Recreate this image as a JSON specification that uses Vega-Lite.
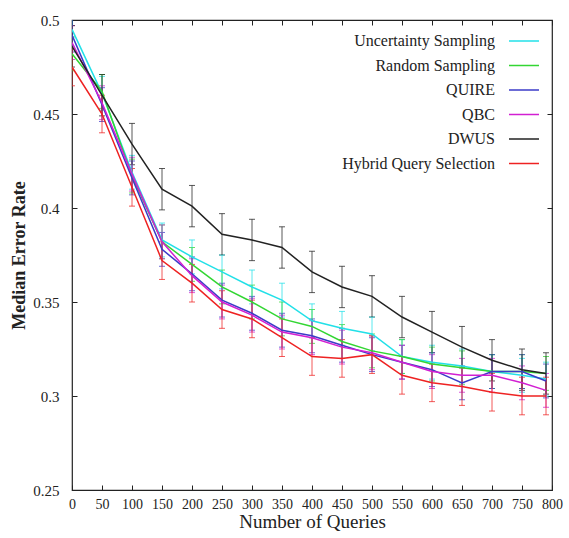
{
  "$schema": "https://vega.github.io/schema/vega-lite/v6.json",
  "width": 480,
  "height": 470,
  "autosize": {"type": "none"},
  "padding": {"left": 72, "top": 20, "right": 17, "bottom": 48},
  "background": "white",
  "config": {
    "font": "Liberation Serif",
    "view": {"stroke": "#222", "strokeWidth": 1.2},
    "axis": {"grid": false, "domain": false, "tickColor": "#222", "labelColor": "#222", "titleColor": "#222", "labelFont": "Liberation Serif", "titleFont": "Liberation Serif", "labelFontSize": 15, "titleFontSize": 19, "titleFontWeight": "normal"},
    "legend": {"labelFont": "Liberation Serif", "labelFontSize": 16, "labelColor": "#222"}
  },
  "data": {"values": [
    {"method":"Uncertainty Sampling","queries":0,"rate":0.495,"lo":0.486,"hi":0.504},
    {"method":"Uncertainty Sampling","queries":50,"rate":0.461,"lo":0.452,"hi":0.470},
    {"method":"Uncertainty Sampling","queries":100,"rate":0.419,"lo":0.410,"hi":0.428},
    {"method":"Uncertainty Sampling","queries":150,"rate":0.383,"lo":0.374,"hi":0.392},
    {"method":"Uncertainty Sampling","queries":200,"rate":0.374,"lo":0.365,"hi":0.383},
    {"method":"Uncertainty Sampling","queries":250,"rate":0.366,"lo":0.357,"hi":0.375},
    {"method":"Uncertainty Sampling","queries":300,"rate":0.358,"lo":0.349,"hi":0.367},
    {"method":"Uncertainty Sampling","queries":350,"rate":0.351,"lo":0.342,"hi":0.360},
    {"method":"Uncertainty Sampling","queries":400,"rate":0.340,"lo":0.331,"hi":0.349},
    {"method":"Uncertainty Sampling","queries":450,"rate":0.336,"lo":0.327,"hi":0.345},
    {"method":"Uncertainty Sampling","queries":500,"rate":0.333,"lo":0.324,"hi":0.342},
    {"method":"Uncertainty Sampling","queries":550,"rate":0.321,"lo":0.312,"hi":0.330},
    {"method":"Uncertainty Sampling","queries":600,"rate":0.318,"lo":0.309,"hi":0.327},
    {"method":"Uncertainty Sampling","queries":650,"rate":0.316,"lo":0.307,"hi":0.325},
    {"method":"Uncertainty Sampling","queries":700,"rate":0.313,"lo":0.304,"hi":0.322},
    {"method":"Uncertainty Sampling","queries":750,"rate":0.311,"lo":0.302,"hi":0.320},
    {"method":"Uncertainty Sampling","queries":790,"rate":0.309,"lo":0.300,"hi":0.318},
    {"method":"Random Sampling","queries":0,"rate":0.482,"lo":0.473,"hi":0.491},
    {"method":"Random Sampling","queries":50,"rate":0.462,"lo":0.453,"hi":0.471},
    {"method":"Random Sampling","queries":100,"rate":0.417,"lo":0.408,"hi":0.426},
    {"method":"Random Sampling","queries":150,"rate":0.382,"lo":0.373,"hi":0.391},
    {"method":"Random Sampling","queries":200,"rate":0.370,"lo":0.361,"hi":0.379},
    {"method":"Random Sampling","queries":250,"rate":0.358,"lo":0.349,"hi":0.367},
    {"method":"Random Sampling","queries":300,"rate":0.350,"lo":0.341,"hi":0.359},
    {"method":"Random Sampling","queries":350,"rate":0.341,"lo":0.332,"hi":0.350},
    {"method":"Random Sampling","queries":400,"rate":0.337,"lo":0.328,"hi":0.346},
    {"method":"Random Sampling","queries":450,"rate":0.329,"lo":0.320,"hi":0.338},
    {"method":"Random Sampling","queries":500,"rate":0.324,"lo":0.315,"hi":0.333},
    {"method":"Random Sampling","queries":550,"rate":0.321,"lo":0.312,"hi":0.330},
    {"method":"Random Sampling","queries":600,"rate":0.317,"lo":0.308,"hi":0.326},
    {"method":"Random Sampling","queries":650,"rate":0.315,"lo":0.306,"hi":0.324},
    {"method":"Random Sampling","queries":700,"rate":0.313,"lo":0.304,"hi":0.322},
    {"method":"Random Sampling","queries":750,"rate":0.313,"lo":0.304,"hi":0.322},
    {"method":"Random Sampling","queries":790,"rate":0.312,"lo":0.303,"hi":0.321},
    {"method":"QUIRE","queries":0,"rate":0.492,"lo":0.483,"hi":0.501},
    {"method":"QUIRE","queries":50,"rate":0.455,"lo":0.446,"hi":0.464},
    {"method":"QUIRE","queries":100,"rate":0.416,"lo":0.407,"hi":0.425},
    {"method":"QUIRE","queries":150,"rate":0.378,"lo":0.369,"hi":0.387},
    {"method":"QUIRE","queries":200,"rate":0.365,"lo":0.356,"hi":0.374},
    {"method":"QUIRE","queries":250,"rate":0.351,"lo":0.342,"hi":0.360},
    {"method":"QUIRE","queries":300,"rate":0.344,"lo":0.335,"hi":0.353},
    {"method":"QUIRE","queries":350,"rate":0.335,"lo":0.326,"hi":0.344},
    {"method":"QUIRE","queries":400,"rate":0.332,"lo":0.323,"hi":0.341},
    {"method":"QUIRE","queries":450,"rate":0.327,"lo":0.318,"hi":0.336},
    {"method":"QUIRE","queries":500,"rate":0.322,"lo":0.313,"hi":0.331},
    {"method":"QUIRE","queries":550,"rate":0.318,"lo":0.309,"hi":0.327},
    {"method":"QUIRE","queries":600,"rate":0.314,"lo":0.305,"hi":0.323},
    {"method":"QUIRE","queries":650,"rate":0.307,"lo":0.298,"hi":0.316},
    {"method":"QUIRE","queries":700,"rate":0.313,"lo":0.304,"hi":0.322},
    {"method":"QUIRE","queries":750,"rate":0.313,"lo":0.304,"hi":0.322},
    {"method":"QUIRE","queries":790,"rate":0.308,"lo":0.299,"hi":0.317},
    {"method":"QBC","queries":0,"rate":0.488,"lo":0.479,"hi":0.497},
    {"method":"QBC","queries":50,"rate":0.456,"lo":0.447,"hi":0.465},
    {"method":"QBC","queries":100,"rate":0.418,"lo":0.409,"hi":0.427},
    {"method":"QBC","queries":150,"rate":0.382,"lo":0.373,"hi":0.391},
    {"method":"QBC","queries":200,"rate":0.364,"lo":0.355,"hi":0.373},
    {"method":"QBC","queries":250,"rate":0.350,"lo":0.341,"hi":0.359},
    {"method":"QBC","queries":300,"rate":0.343,"lo":0.334,"hi":0.352},
    {"method":"QBC","queries":350,"rate":0.334,"lo":0.325,"hi":0.343},
    {"method":"QBC","queries":400,"rate":0.331,"lo":0.322,"hi":0.340},
    {"method":"QBC","queries":450,"rate":0.326,"lo":0.317,"hi":0.335},
    {"method":"QBC","queries":500,"rate":0.323,"lo":0.314,"hi":0.332},
    {"method":"QBC","queries":550,"rate":0.318,"lo":0.309,"hi":0.327},
    {"method":"QBC","queries":600,"rate":0.313,"lo":0.304,"hi":0.322},
    {"method":"QBC","queries":650,"rate":0.311,"lo":0.302,"hi":0.320},
    {"method":"QBC","queries":700,"rate":0.311,"lo":0.302,"hi":0.320},
    {"method":"QBC","queries":750,"rate":0.307,"lo":0.298,"hi":0.316},
    {"method":"QBC","queries":790,"rate":0.303,"lo":0.294,"hi":0.312},
    {"method":"DWUS","queries":0,"rate":0.486,"lo":0.475,"hi":0.497},
    {"method":"DWUS","queries":50,"rate":0.460,"lo":0.449,"hi":0.471},
    {"method":"DWUS","queries":100,"rate":0.434,"lo":0.423,"hi":0.445},
    {"method":"DWUS","queries":150,"rate":0.410,"lo":0.399,"hi":0.421},
    {"method":"DWUS","queries":200,"rate":0.401,"lo":0.390,"hi":0.412},
    {"method":"DWUS","queries":250,"rate":0.386,"lo":0.375,"hi":0.397},
    {"method":"DWUS","queries":300,"rate":0.383,"lo":0.372,"hi":0.394},
    {"method":"DWUS","queries":350,"rate":0.379,"lo":0.368,"hi":0.390},
    {"method":"DWUS","queries":400,"rate":0.366,"lo":0.355,"hi":0.377},
    {"method":"DWUS","queries":450,"rate":0.358,"lo":0.347,"hi":0.369},
    {"method":"DWUS","queries":500,"rate":0.353,"lo":0.342,"hi":0.364},
    {"method":"DWUS","queries":550,"rate":0.342,"lo":0.331,"hi":0.353},
    {"method":"DWUS","queries":600,"rate":0.334,"lo":0.323,"hi":0.345},
    {"method":"DWUS","queries":650,"rate":0.326,"lo":0.315,"hi":0.337},
    {"method":"DWUS","queries":700,"rate":0.319,"lo":0.308,"hi":0.330},
    {"method":"DWUS","queries":750,"rate":0.314,"lo":0.303,"hi":0.325},
    {"method":"DWUS","queries":790,"rate":0.312,"lo":0.301,"hi":0.323},
    {"method":"Hybrid Query Selection","queries":0,"rate":0.475,"lo":0.465,"hi":0.485},
    {"method":"Hybrid Query Selection","queries":50,"rate":0.450,"lo":0.440,"hi":0.460},
    {"method":"Hybrid Query Selection","queries":100,"rate":0.411,"lo":0.401,"hi":0.421},
    {"method":"Hybrid Query Selection","queries":150,"rate":0.372,"lo":0.362,"hi":0.382},
    {"method":"Hybrid Query Selection","queries":200,"rate":0.360,"lo":0.350,"hi":0.370},
    {"method":"Hybrid Query Selection","queries":250,"rate":0.346,"lo":0.336,"hi":0.356},
    {"method":"Hybrid Query Selection","queries":300,"rate":0.341,"lo":0.331,"hi":0.351},
    {"method":"Hybrid Query Selection","queries":350,"rate":0.331,"lo":0.321,"hi":0.341},
    {"method":"Hybrid Query Selection","queries":400,"rate":0.321,"lo":0.311,"hi":0.331},
    {"method":"Hybrid Query Selection","queries":450,"rate":0.320,"lo":0.310,"hi":0.330},
    {"method":"Hybrid Query Selection","queries":500,"rate":0.322,"lo":0.312,"hi":0.332},
    {"method":"Hybrid Query Selection","queries":550,"rate":0.311,"lo":0.301,"hi":0.321},
    {"method":"Hybrid Query Selection","queries":600,"rate":0.307,"lo":0.297,"hi":0.317},
    {"method":"Hybrid Query Selection","queries":650,"rate":0.305,"lo":0.295,"hi":0.315},
    {"method":"Hybrid Query Selection","queries":700,"rate":0.302,"lo":0.292,"hi":0.312},
    {"method":"Hybrid Query Selection","queries":750,"rate":0.300,"lo":0.290,"hi":0.310},
    {"method":"Hybrid Query Selection","queries":790,"rate":0.300,"lo":0.290,"hi":0.310}
  ]},
  "resolve": {"axis": {"x": "independent", "y": "independent"}},
  "layer": [
    {
      "mark": {"type": "errorbar", "ticks": {"size": 6}, "clip": true, "opacity": 0.75, "thickness": 1},
      "encoding": {
        "x": {"field": "queries", "type": "quantitative", "scale": {"domain": [0, 800]},
              "axis": {"orient": "top", "labels": false, "title": null, "values": [0,50,100,150,200,250,300,350,400,450,500,550,600,650,700,750,800], "tickSize": -5}},
        "y": {"field": "lo", "type": "quantitative", "scale": {"domain": [0.25, 0.5]},
              "axis": {"orient": "right", "labels": false, "title": null, "values": [0.25,0.3,0.35,0.4,0.45,0.5], "tickSize": -5}},
        "y2": {"field": "hi"},
        "color": {"field": "method", "type": "nominal",
          "scale": {"domain": ["Uncertainty Sampling", "Random Sampling", "QUIRE", "QBC", "DWUS", "Hybrid Query Selection"],
                    "range": ["#22e0e8", "#33d633", "#3b3bc8", "#d21fd2", "#222222", "#ee2222"]},
          "legend": {"title": null, "orient": "none", "legendX": 436, "legendY": 5, "symbolType": "stroke", "symbolSize": 900, "symbolStrokeWidth": 1.5, "symbolOpacity": 1, "labelAlign": "right", "labelOffset": -45, "rowPadding": 0.5, "padding": 0}
        }
      }
    },
    {
      "mark": {"type": "line", "strokeWidth": 1.5, "clip": true},
      "encoding": {
        "x": {"field": "queries", "type": "quantitative", "scale": {"domain": [0, 800]},
              "axis": {"orient": "bottom", "title": "Number of Queries", "values": [0,50,100,150,200,250,300,350,400,450,500,550,600,650,700,750,800], "tickSize": -5, "labelFontSize": 14, "labelPadding": 12, "titlePadding": 1, "labelFlush": false}},
        "y": {"field": "rate", "type": "quantitative", "scale": {"domain": [0.25, 0.5]},
              "axis": {"orient": "left", "title": "Median Error Rate", "titleFontWeight": "bold", "titleFontSize": 18, "values": [0.25,0.3,0.35,0.4,0.45,0.5], "format": "~g", "tickSize": -5, "labelPadding": 18, "titlePadding": 4, "labelFlush": false}},
        "color": {"field": "method", "type": "nominal",
          "scale": {"domain": ["Uncertainty Sampling", "Random Sampling", "QUIRE", "QBC", "DWUS", "Hybrid Query Selection"],
                    "range": ["#22e0e8", "#33d633", "#3b3bc8", "#d21fd2", "#222222", "#ee2222"]},
          "legend": {"title": null, "orient": "none", "legendX": 436, "legendY": 5, "symbolType": "stroke", "symbolSize": 900, "symbolStrokeWidth": 1.5, "symbolOpacity": 1, "labelAlign": "right", "labelOffset": -45, "rowPadding": 0.5, "padding": 0}
        }
      }
    }
  ]
}
